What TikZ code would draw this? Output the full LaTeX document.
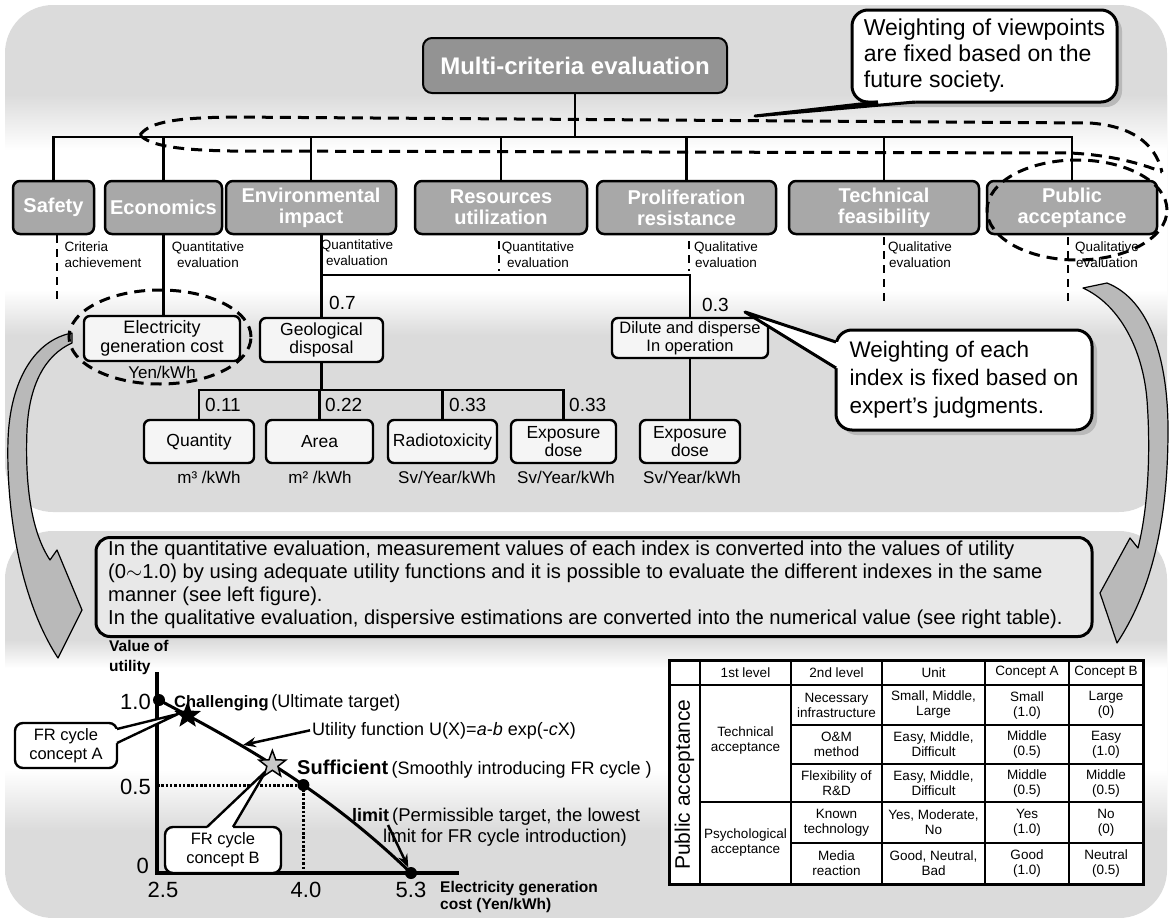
\documentclass[tikz,border=0pt]{standalone}
\usepackage{fontspec}
\setmainfont{Liberation Sans}
\usetikzlibrary{shapes.geometric,arrows.meta,shadows}
\newcommand\fsz[2]{\fontsize{#1}{#2}\selectfont}

\begin{document}
\begin{tikzpicture}[x=1pt,y=-1pt,
  critbox/.style={draw=black, line width=2.5pt, rounded corners=7pt, fill=gray!68,
    text=white, font=\bfseries\fsz{20}{21}, align=center, inner sep=0pt, minimum height=53pt},
  leafbox/.style={draw=black, line width=2.4pt, rounded corners=6pt, fill=gray!8,
    font=\fsz{17.5}{18.5}, align=center, inner sep=0pt},
  callbox/.style={draw=black, line width=3pt, rounded corners=16pt, fill=white,
    align=left, inner sep=0pt,
    drop shadow={shadow xshift=5pt, shadow yshift=-5pt, fill=gray!55, opacity=1}},
  smallcall/.style={draw=black, line width=2.4pt, rounded corners=8pt, fill=white,
    font=\fsz{16.5}{19}, align=center, inner sep=0pt},
  conn/.style={line width=2.2pt},
  bigdash/.style={line width=3pt, dash pattern=on 11pt off 7pt},
  tickdash/.style={line width=2.6pt, dash pattern=on 8pt off 6pt},
  evtxt/.style={font=\fsz{13.5}{16}, align=center, inner sep=0pt},
  wt/.style={font=\fsz{19}{20}, inner sep=0pt, anchor=west},
  unitlbl/.style={font=\fsz{17}{18}, inner sep=0pt},
  bigarrow/.style={fill=gray!55, draw=black, line width=1.2pt, line join=round},
  ptdot/.style={circle, fill=black, minimum size=12pt, inner sep=0pt},
  gaxis/.style={line width=3.5pt},
  dotline/.style={line width=3pt, dash pattern=on 2.5pt off 1.8pt},
  ptr/.style={line width=2.5pt, -{Stealth[length=13pt,width=10pt]}},
  tcell/.style={font=\fsz{13.5}{15}, align=center, inner sep=0pt},
  tline/.style={line width=2pt},
  wedge/.style={line width=3pt, line join=round},
]
\useasboundingbox (0,0) rectangle (1170,918);

% ---------- background panels ----------
\begin{scope}
  \clip[rounded corners=48pt] (5,5) rectangle (1167,512);
  \fill[gray!28] (0,0) rectangle (1170,520);
  \shade[top color=gray!28, bottom color=white] (0,95) rectangle (1170,150);
  \fill[white] (0,150) rectangle (1170,290);
  \shade[top color=white, bottom color=gray!28] (0,290) rectangle (1170,335);
\end{scope}
\begin{scope}
  \clip[rounded corners=48pt] (5,531) rectangle (1167,918);
  \fill[gray!28] (0,525) rectangle (1170,920);
  \shade[top color=gray!28, bottom color=white] (0,640) rectangle (1170,668);
  \fill[white] (0,668) rectangle (1170,770);
  \shade[top color=white, bottom color=gray!28] (0,770) rectangle (1170,830);
\end{scope}

% ---------- curved transfer arrows ----------
\path[bigarrow] (72,333) .. controls (35,340) and (10,380) .. (8,440)
  .. controls (6,510) and (20,600) .. (58,658) -- (82,610) -- (57,550) -- (50,560)
  .. controls (30,530) and (25,480) .. (27,430) .. controls (29,385) and (45,355) .. (72,343) -- cycle;
\path[bigarrow] (1107,283) .. controls (1150,300) and (1168,360) .. (1168,430)
  .. controls (1168,520) and (1152,590) .. (1117,643) -- (1100,593) -- (1130,538) -- (1138,548)
  .. controls (1150,500) and (1150,440) .. (1147,400) .. controls (1143,350) and (1120,305) .. (1083,288) -- cycle;

% ---------- evaluation tree ----------
\node[draw=black, line width=2pt, rounded corners=9pt, fill=gray!85, text=white,
  font=\bfseries\fsz{24}{26}, minimum width=304pt, minimum height=55pt, inner sep=0pt]
  (title) at (575,65.5) {Multi-criteria evaluation};

\node[critbox, minimum width=81pt]  (safety) at (53.5,207.5) {Safety};
\node[critbox, minimum width=117pt] (econ)   at (163.5,207.5) {Economics};
\node[critbox, minimum width=170pt] (env)    at (311,207.5) {Environmental\\impact};
\node[critbox, minimum width=172pt] (res)    at (501,207.5) {Resources\\utilization};
\node[critbox, minimum width=179pt] (prolif) at (686.5,207.5) {Proliferation\\resistance};
\node[critbox, minimum width=190pt] (tech)   at (884,207.5) {Technical\\feasibility};
\node[critbox, minimum width=170pt] (pub)    at (1072,207.5) {Public\\acceptance};

\coordinate (bus) at (0,137);
\draw[conn] (title.south) -- (title.south |- bus);
\draw[conn] (safety.north) -- (safety.north |- bus) -- (pub.north |- bus) -- (pub.north);
\foreach \b in {econ,env,res,prolif,tech} \draw[conn] (\b.north) -- (\b.north |- bus);

% evaluation kinds
\node[evtxt, align=left] (evs) at (103,255) {Criteria\\achievement};
\node[evtxt] (eve) at (208,255) {Quantitative\\evaluation};
\node[evtxt] (evn) at (357,253) {Quantitative\\evaluation};
\node[evtxt] (evr) at (538,255) {Quantitative\\evaluation};
\node[evtxt] (evp) at (726,255) {Qualitative\\evaluation};
\node[evtxt] (evt) at (920,255) {Qualitative\\evaluation};
\node[evtxt] (evq) at (1107,255) {Qualitative\\evaluation};
\draw[tickdash] ([xshift=3.5pt]safety.south) -- ++(0,64);
\draw[tickdash] ([xshift=-2pt,yshift=-6pt]res.south) -- ++(0,30);
\draw[tickdash] ([xshift=2.5pt,yshift=-6pt]prolif.south) -- ++(0,30);
\draw[tickdash] ([yshift=-2pt]tech.south) -- ++(0,66);
\draw[tickdash] ([xshift=-4pt,yshift=-2pt]pub.south) -- ++(0,66);

% indexes
\node[leafbox, font=\fsz{18}{19}, minimum width=156pt, minimum height=45pt] (elec) at (162,338.5) {Electricity\\generation cost};
\node[leafbox, minimum width=123pt, minimum height=44pt] (geo) at (321.5,340) {Geological\\disposal};
\node[leafbox, font=\fsz{16.5}{18}, minimum width=156pt, minimum height=40pt] (dil) at (690,338) {Dilute and disperse\\In operation};
\node[leafbox, minimum width=110pt, minimum height=43pt] (qty) at (199,441.5) {Quantity};
\node[leafbox, minimum width=107pt, minimum height=43pt] (area) at (319.5,441.5) {Area};
\node[leafbox, minimum width=109pt, minimum height=43pt] (rad) at (442.5,441.5) {Radiotoxicity};
\node[leafbox, minimum width=105pt, minimum height=43pt] (exp1) at (563.5,441.5) {Exposure\\dose};
\node[leafbox, minimum width=100pt, minimum height=43pt] (exp2) at (690,441.5) {Exposure\\dose};

\draw[conn] (econ.south) -- (econ.south |- elec.north);
\coordinate (wbus) at (0,275);
\draw[conn] (geo.north |- env.south) -- (geo.north);
\draw[conn] (geo.north |- wbus) -- (dil.north |- wbus) -- (dil.north);
\coordinate (lbus) at (0,390);
\draw[conn] (geo.south) -- (geo.south |- lbus);
\draw[conn] (qty.north) -- (qty.north |- lbus) -- (exp1.north |- lbus) -- (exp1.north);
\draw[conn] (area.north) -- (area.north |- lbus);
\draw[conn] (rad.north) -- (rad.north |- lbus);
\draw[conn] (dil.south) -- (exp2.north);

% weights
\node[wt] (w07) at (329,303) {0.7};
\node[wt] (w03) at (702,305) {0.3};
\node[wt] (w011) at (205,405) {0.11};
\node[wt] (w022) at (325,405) {0.22};
\node[wt] (w033a) at (449,405) {0.33};
\node[wt] (w033b) at (569,405) {0.33};

% units
\node[unitlbl] (uy) at (162,372) {Yen/kWh};
\node[unitlbl] (u1) at (209,477) {m³ /kWh};
\node[unitlbl] (u2) at (320,477) {m² /kWh};
\node[unitlbl] (u3) at (447,477) {Sv/Year/kWh};
\node[unitlbl] (u4) at (566,477) {Sv/Year/kWh};
\node[unitlbl] (u5) at (692,477) {Sv/Year/kWh};

% dashed groupings
\draw[bigdash] (160,337) ellipse [x radius=91pt, y radius=47pt];
\draw[bigdash] (1077,210) ellipse [x radius=90pt, y radius=50pt];
\draw[bigdash] (140,135) .. controls (150,121) and (180,118) .. (230,117) -- (1090,123)
  .. controls (1130,126) and (1155,142) .. (1162,172);
\draw[bigdash] (140,135) .. controls (150,146) and (180,150) .. (230,151) -- (1070,153)
  .. controls (1110,155) and (1140,163) .. (1162,172);

% callout: viewpoints
\node[callbox, font=\fsz{23}{26}, minimum width=265pt, minimum height=92pt] (cview) at (984.5,56)
  {Weighting of viewpoints\\are fixed based on the\\future society.};
\coordinate (cvtip) at (755,116);
\begin{scope}
  \clip (878,102) -- (cvtip) -- (915,102) -- (915,92) -- (878,92) -- cycle;
  \fill[white] (700,80) rectangle (1000,130);
\end{scope}
\draw[wedge] (878,102) -- (cvtip) -- (915,102);

% callout: index weights
\node[callbox, font=\fsz{22.5}{28}, minimum width=256pt, minimum height=100pt] (cexp) at (964,380)
  {Weighting of each\\index is fixed based on\\expert's judgments.};
\coordinate (cetip) at (745,312);
\begin{scope}
  \clip (836,342) -- (cetip) -- (836,368) -- (846,368) -- (846,342) -- cycle;
  \fill[white] (700,300) rectangle (850,380);
\end{scope}
\draw[wedge] (836,342) -- (cetip) -- (836,368);

% ---------- explanation ----------
\node[draw=black, line width=3pt, rounded corners=14pt, fill=gray!18, minimum width=996pt,
  minimum height=99pt, inner sep=0pt] (tbox) at (594,587) {};
\node[font=\fsz{20.2}{22.8}, align=left, anchor=north west, inner sep=0pt] (expl) at (108,541)
  {In the quantitative evaluation, measurement values of each index is converted into the values of utility\\
   (0$\sim$1.0) by using adequate utility functions and it is possible to evaluate the different indexes in the same\\
   manner (see left figure).\\
   In the qualitative evaluation, dispersive estimations are converted into the numerical value (see right table).};

% ---------- utility function graph ----------
\node[font=\bfseries\fsz{15.5}{20}, align=left, anchor=north west, inner sep=0pt] (vlab) at (109,640) {Value of\\utility};
\coordinate (yt) at (157,672);
\coordinate (org) at (157,873);
\coordinate (xe) at (459,873);
\draw[gaxis] (yt) -- (org) -- (xe);
\coordinate (p10) at (159,700);
\coordinate (p53) at (411,873);
\draw[line width=3pt] (p10) .. controls (230,738) and (320,785) .. (p53)
  coordinate[pos=0.13] (sA) coordinate[pos=0.48] (sB) coordinate[pos=0.6] (p40);
\draw[dotline] (org |- p40) -- (p40) -- (p40 |- org);
\node[ptdot] (d10) at (p10) {};
\node[ptdot] (d40) at (p40) {};
\node[ptdot] (d53) at (p53) {};

\node[font=\fsz{22}{24}, anchor=east, inner sep=0pt] (n10) at (151,702) {1.0};
\node[font=\fsz{22}{24}, anchor=east, inner sep=0pt] (n05) at (151,787) {0.5};
\node[font=\fsz{22}{24}, anchor=east, inner sep=0pt] (n0) at (149,866) {0};
\node[font=\fsz{22}{24}, inner sep=0pt] (n25) at (163,890) {2.5};
\node[font=\fsz{22}{24}, inner sep=0pt] (n40) at (306,890) {4.0};
\node[font=\fsz{22}{24}, inner sep=0pt] (n53) at (411,890) {5.3};
\node[font=\bfseries\fsz{15.5}{17}, align=left, anchor=north west, inner sep=0pt] (xl) at (440,881)
  {Electricity generation\\cost (Yen/kWh)};

% concept callouts
\node[smallcall, minimum width=102pt, minimum height=45pt] (ca) at (66,745.5) {FR cycle\\concept A};
\coordinate (catip) at (178,714);
\begin{scope}
  \clip (117,729) -- (catip) -- (117,743) -- (110,743) -- (110,729) -- cycle;
  \fill[white] (100,700) rectangle (190,760);
\end{scope}
\draw[wedge, line width=2.4pt] (117,729) -- (catip) -- (117,743);

\node[smallcall, minimum width=116pt, minimum height=46pt] (cb) at (223,850) {FR cycle\\concept B};
\coordinate (cbtip) at (266,771);
\begin{scope}
  \clip (207,827) -- (cbtip) -- (233,827) -- (233,834) -- (207,834) -- cycle;
  \fill[white] (190,760) rectangle (280,840);
\end{scope}
\draw[wedge, line width=2.4pt] (207,827) -- (cbtip) -- (233,827);

\node[star, star points=5, star point ratio=2.4, fill=black, minimum size=28pt, inner sep=0pt] (stA) at (sA) {};
\node[star, star points=5, star point ratio=2.4, fill=gray!45, draw=black, line width=1.5pt,
  minimum size=28pt, inner sep=0pt] (stB) at (sB) {};

\node[anchor=base west, inner sep=0pt] (chal) at (174,707)
  {\fsz{16.5}{18}\textbf{Challenging}\,\fsz{18}{19}(Ultimate target)};
\node[anchor=base west, inner sep=0pt, font=\fsz{18}{19}] (ufn) at (312,735)
  {Utility function U(X)=\textit{a}-\textit{b} exp(-\textit{c}X)};
\coordinate (ucv) at (243,745);
\draw[ptr] ([xshift=-2pt]ufn.west) -- (ucv);
\node[anchor=base west, inner sep=0pt] (suf) at (297,774)
  {\fsz{20}{21}\textbf{Sufficient}\,\fsz{18}{19}(Smoothly introducing FR cycle )};
\node[anchor=base west, inner sep=0pt] (lim) at (352,821)
  {\fsz{18}{19}\textbf{limit}\,\fsz{18.5}{19}(Permissible target, the lowest};
\node[anchor=base west, inner sep=0pt, font=\fsz{18.5}{19}] (lim2) at (383,842)
  {limit for FR cycle introduction)};
\draw[ptr] ([xshift=36pt,yshift=-4pt]lim.base west) -- (d53);

% ---------- public acceptance table ----------
\draw[line width=3pt, fill=white] (669,660) rectangle (1143,884);
\foreach \x in {700,791,882,985,1069} \draw[tline] (\x,660) -- (\x,884);
\draw[tline] (669,685) -- (1143,685);
\foreach \y in {725,764,843} \draw[tline] (791,\y) -- (1143,\y);
\draw[tline] (700,802) -- (1143,802);

\node[tcell] (h1) at (745.5,672.5) {1st level};
\node[tcell] (h2) at (836.5,672.5) {2nd level};
\node[tcell] (h3) at (933.5,672.5) {Unit};
\node[tcell] (h4) at (1027,672.5) {Concept A};
\node[tcell] (h5) at (1106,672.5) {Concept B};
\node[rotate=90, font=\fsz{21}{22}, inner sep=0pt] (pa) at (684.5,784.5) {Public acceptance};
\node[tcell] (l1a) at (745.5,741) {Technical\\acceptance};
\node[tcell] (l1b) at (745.5,842) {Psychological\\acceptance};

\node[tcell] (r1a) at (836.5,705) {Necessary\\infrastructure};
\node[tcell] (r1b) at (933.5,705) {Small, Middle,\\Large};
\node[tcell] (r1c) at (1027,705) {Small\\(1.0)};
\node[tcell] (r1d) at (1106,705) {Large\\(0)};
\node[tcell] (r2a) at (836.5,744.5) {O\&M\\method};
\node[tcell] (r2b) at (933.5,744.5) {Easy, Middle,\\Difficult};
\node[tcell] (r2c) at (1027,744.5) {Middle\\(0.5)};
\node[tcell] (r2d) at (1106,744.5) {Easy\\(1.0)};
\node[tcell] (r3a) at (836.5,783) {Flexibility of\\R\&D};
\node[tcell] (r3b) at (933.5,783) {Easy, Middle,\\Difficult};
\node[tcell] (r3c) at (1027,783) {Middle\\(0.5)};
\node[tcell] (r3d) at (1106,783) {Middle\\(0.5)};
\node[tcell] (r4a) at (836.5,822.5) {Known\\technology};
\node[tcell] (r4b) at (933.5,822.5) {Yes, Moderate,\\No};
\node[tcell] (r4c) at (1027,822.5) {Yes\\(1.0)};
\node[tcell] (r4d) at (1106,822.5) {No\\(0)};
\node[tcell] (r5a) at (836.5,863.5) {Media\\reaction};
\node[tcell] (r5b) at (933.5,863.5) {Good, Neutral,\\Bad};
\node[tcell] (r5c) at (1027,863.5) {Good\\(1.0)};
\node[tcell] (r5d) at (1106,863.5) {Neutral\\(0.5)};
\end{tikzpicture}
\end{document}
